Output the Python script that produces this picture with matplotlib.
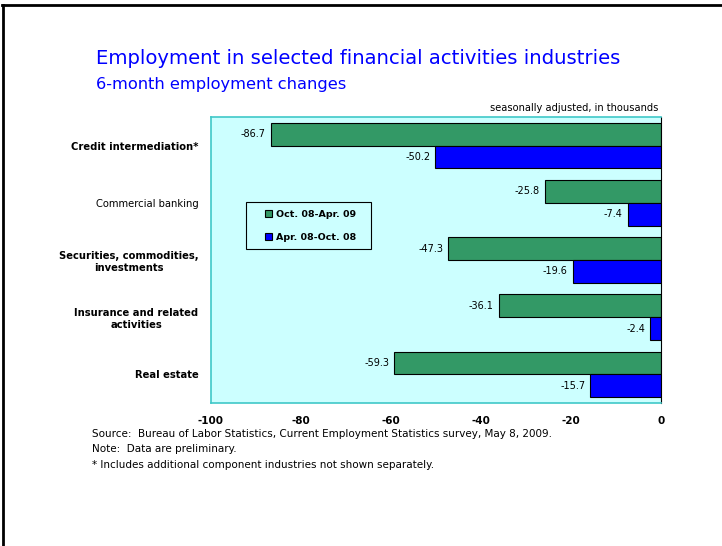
import matplotlib.pyplot as plt
from matplotlib.patches import Rectangle
import numpy as np

categories = ["Credit intermediation*", "Commercial banking",
              "Securities, commodities,\ninvestments",
              "Insurance and related\nactivities", "Real estate"]
bold_cat = [True, False, True, True, True]
recent = [-86.7, -25.8, -47.3, -36.1, -59.3]      # Oct. 08-Apr. 09
earlier = [-50.2, -7.4, -19.6, -2.4, -15.7]       # Apr. 08-Oct. 08
series_names = ["Oct. 08-Apr. 09", "Apr. 08-Oct. 08"]
xticks = [-100, -80, -60, -40, -20, 0]

green = "#339966"
blue = "#0000FF"

W, H = 722, 546
fig = plt.figure(figsize=(W / 100, H / 100), dpi=100)
# plot area in pixels: left 211, right 661, top 117, bottom 403
ax = fig.add_axes([211 / W, 1 - 403 / H, 450 / W, 286 / H])
ax.set_facecolor("#CCFFFF")

y = np.arange(len(categories))
h = 0.4
b1 = ax.barh(y - h / 2, recent, height=h, color=green, edgecolor="black", linewidth=0.8,
             label=series_names[0])
b2 = ax.barh(y + h / 2, earlier, height=h, color=blue, edgecolor="black", linewidth=0.8,
             label=series_names[1])
for bars, vals in ((b1, recent), (b2, earlier)):
    for bar, v in zip(bars, vals):
        ax.text(v - 1.1, bar.get_y() + bar.get_height() / 2, f"{v:.1f}",
                ha="right", va="center", fontsize=7)

ax.set_xlim(-100, 0)
ax.set_ylim(len(categories) - 0.5, -0.5)
ax.set_xticks(xticks)
ax.set_xticklabels([str(t) for t in xticks], fontsize=7.5, fontweight="bold")
ax.tick_params(axis="x", length=0, pad=9)
ax.set_yticks(y)
ax.set_yticklabels(categories, fontsize=7.2)
for lbl, b in zip(ax.get_yticklabels(), bold_cat):
    lbl.set_fontweight("bold" if b else "normal")
    lbl.set_multialignment("center")
ax.tick_params(axis="y", length=0, pad=9)

for s in ("left", "bottom", "top"):
    ax.spines[s].set_color("#40C8C8")
    ax.spines[s].set_linewidth(1.2)
ax.spines["right"].set_color("black")

# legend box (pixels 246..371 x 202..249)
ax.add_patch(Rectangle(((246 - 211) / 450, (403 - 249) / 286), 125 / 450, 47 / 286,
                       transform=ax.transAxes, facecolor="#CCFFFF", edgecolor="black",
                       linewidth=0.8, zorder=4))
leg = ax.legend(loc="upper left", bbox_to_anchor=((265 - 211) / 450, (403 - 210) / 286),
                prop={"weight": "bold", "size": 6.8}, frameon=False,
                handlelength=0.75, handleheight=0.75, borderpad=0, labelspacing=1.45,
                handletextpad=0.45, borderaxespad=0)
leg.set_zorder(5)

fig.text(96 / W, 1 - 58 / H, "Employment in selected financial activities industries",
         color=blue, fontsize=14.1, va="center")
fig.text(96 / W, 1 - 85 / H, "6-month employment changes", color=blue, fontsize=11.7,
         va="center")
fig.text(658 / W, 1 - 108 / H, "seasonally adjusted, in thousands", fontsize=7.1,
         ha="right", va="center")

notes = ["Source:  Bureau of Labor Statistics, Current Employment Statistics survey, May 8, 2009.",
         "Note:  Data are preliminary.",
         "* Includes additional component industries not shown separately."]
for i, n in enumerate(notes):
    fig.text(92 / W, 1 - (434 + 15.5 * i) / H, n, fontsize=7.5, va="center",
             family=["Liberation Sans Narrow", "DejaVu Sans"])

# page border (top and left)
fig.add_artist(plt.Line2D([3 / W, 3 / W], [0, 1 - 5 / H], color="black", lw=2,
                          transform=fig.transFigure))
fig.add_artist(plt.Line2D([2 / W, 1], [1 - 5 / H, 1 - 5 / H], color="black", lw=2,
                          transform=fig.transFigure))

fig.savefig("out.png", dpi=100)
